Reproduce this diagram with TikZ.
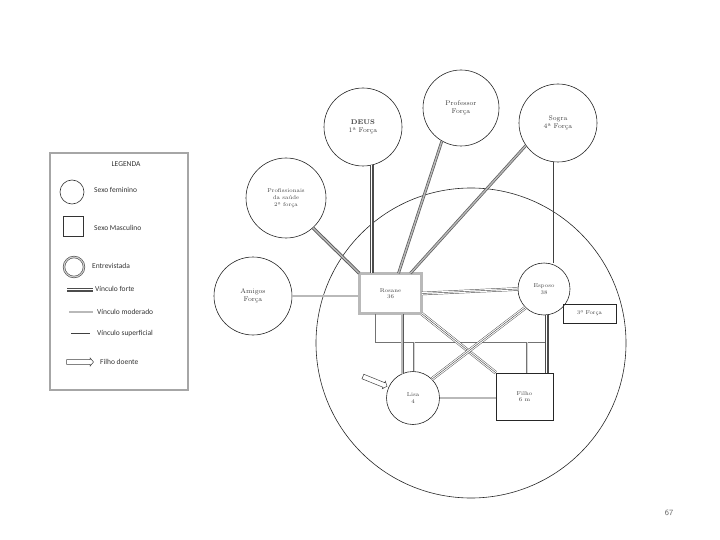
\documentclass[tikz,border=0pt]{standalone}
\usepackage{fontspec}
\newfontfamily\legfont{Carlito}
\usetikzlibrary{shapes.arrows,calc}
\begin{document}
\begin{tikzpicture}[x=1pt,y=-1pt,
  fem/.style={circle, draw=black!85, line width=0.6pt, minimum size=#1, inner sep=0pt, align=center, text=black!75, font=\fontsize{6.8}{7.6}\selectfont},
  boxn/.style={rectangle, draw=black!85, line width=0.6pt, inner sep=0pt, align=center, text=black!75, font=\fontsize{5.6}{6.6}\selectfont},
  inner/.style={font=\fontsize{5.6}{6.6}\selectfont},
  forte/.style={draw=black!70, line width=0.45pt, preaction={draw=black!70, line width=0.45pt, double=white, double distance=2.6pt}},
  moderado/.style={draw=black!65, line width=0.7pt, double=gray!55, double distance=1.4pt},
  leve/.style={draw=black!55, line width=0.5pt, double=gray!35, double distance=0.9pt},
  superficial/.style={draw=black!75, line width=0.5pt},
  legtext/.style={anchor=west, inner sep=0pt, text=black!80, font=\legfont\fontsize{7.5}{9}\selectfont},
  seta/.style={single arrow, draw=black!75, line width=0.5pt, fill=white, inner xsep=0pt, inner ysep=2.2pt, minimum height=#1, single arrow head extend=1.6pt, single arrow tip angle=100}
]
\useasboundingbox (0,0) rectangle (720,540);

% ---------- legend ----------
\node[draw=gray!70, line width=1.4pt, minimum width=138, minimum height=237, inner sep=0pt] (legenda) at (119,271.5) {};
\node[inner sep=0pt, text=black!80, font=\legfont\fontsize{7.5}{9}\selectfont] (legt) at (126,164) {LEGENDA};
\node[circle, draw=black!80, line width=0.6pt, minimum size=24, inner sep=0pt] (lfem) at (72,192) {};
\node[legtext] (lfemt) at (94,190) {Sexo feminino};
\node[rectangle, draw=black!80, line width=0.6pt, minimum size=20, inner sep=0pt] (lmasc) at (73,226) {};
\node[legtext] (lmasct) at (94,228) {Sexo Masculino};
\node[circle, draw=black!80, line width=0.5pt, double=gray!40, double distance=1.2pt, minimum size=20, inner sep=0pt] (lent) at (74,267) {};
\node[legtext] (lentt) at (92,266) {Entrevistada};
\coordinate (lf1) at (67,290); \coordinate (lf2) at (93,290);
\draw[forte] (lf1) -- (lf2);
\node[legtext] (lft) at (95,289) {Vínculo forte};
\coordinate (lm1) at (69,312); \coordinate (lm2) at (93,312);
\draw[moderado] (lm1) -- (lm2);
\node[legtext] (lmt) at (97,312) {Vínculo moderado};
\coordinate (ls1) at (71,333); \coordinate (ls2) at (90,333);
\draw[superficial] (ls1) -- (ls2);
\node[legtext] (lst) at (97,333) {Vínculo superficial};
\node[seta=27pt] (lseta) at (79,362) {};
\node[legtext] (lsetat) at (100,362) {Filho doente};

% ---------- family circle ----------
\node[circle, draw=black!85, line width=0.6pt, minimum size=310, inner sep=0pt] (familia) at (471,343) {};

% ---------- people ----------
\node[fem=78] (deus) at (363,127) {\textbf{DEUS}\\1ª Força};
\node[fem=76] (prof) at (461,108) {Professor\\Força};
\node[fem=78] (sogra) at (558,123) {Sogra\\4ª Força};
\node[fem=80, font=\fontsize{5.6}{6.6}\selectfont] (profis) at (286,198) {Profissionais\\da saúde\\2ª força};
\node[fem=78] (amigos) at (253,296) {Amigos\\Força};
\node[boxn, fill=white, draw=black!80, line width=0.5pt, double=gray!55, double distance=2.4pt, minimum width=62, minimum height=40] (rosane) at (390.5,293.5) {Rosane\\36};
\node[fem=52, fill=white, inner] (esposo) at (544,289) {Esposo\\38};
\node[boxn, minimum width=53, minimum height=19] (forca3) at (589.5,313.5) {3ª Força};
\node[fem=53, fill=white, inner] (lisa) at (413,398) {Lisa\\4};
\node[boxn, fill=white, minimum width=57, minimum height=47] (filho) at (524.5,396.5) {Filho\\6 m};

% ---------- household frame ----------
\coordinate (fl) at (375,342);
\coordinate (fr) at (549,342);
\draw[superficial, draw=black!55] (rosane.south -| fl) -- (fl) -- (fr);
\draw[leve] ([xshift=1]lisa.north |- fl) -- ([xshift=1]lisa.north);
\draw[leve] ([xshift=2.5]filho.north |- fl) -- ([xshift=2.5]filho.north);

% ---------- links ----------
\draw[forte] (deus.-77) -- (deus.-77 |- rosane.north);
\draw[moderado] (prof.240) -- ([xshift=8]rosane.north);
\draw[moderado] (sogra.215) -- ([xshift=20]rosane.north);
\draw[moderado, line width=0.9pt] (profis.-48) -- (rosane.north west);
\draw[moderado] (amigos.east) -- (amigos.east -| rosane.west);
\draw[forte] (rosane.east) -- (esposo.west);
\draw[superficial] (sogra.-97) -- (sogra.-97 |- esposo.north);
\draw[forte] (rosane.south east) -- (filho.north west);
\draw[forte] (esposo.225) -- (lisa.45);
\draw[moderado] (lisa.114 |- rosane.south) -- (lisa.114);
\draw[moderado] (lisa.east) -- (lisa.east -| filho.west);
\draw[forte] ([xshift=3]esposo.south) -- ([xshift=3]esposo.south |- filho.north);

% ---------- sick child arrow ----------
\node[seta=26pt, rotate=-22] (setalisa) at (374,381) {};

% ---------- page number ----------
\node[inner sep=0pt, text=black!60, font=\sffamily\fontsize{8}{9}\selectfont] (pagina) at (669,513) {67};
\end{tikzpicture}
\end{document}
